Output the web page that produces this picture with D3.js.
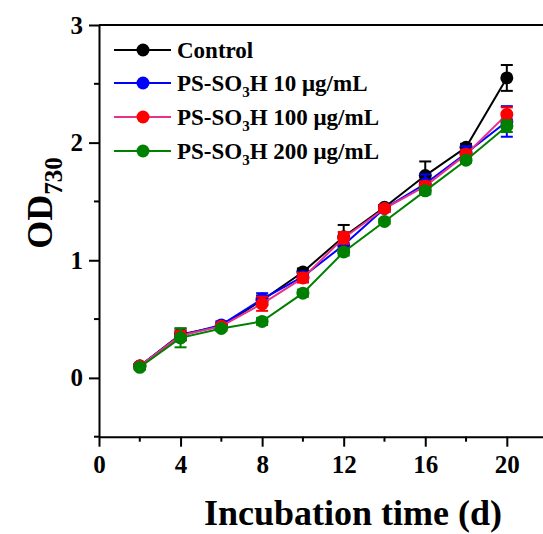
<!DOCTYPE html>
<html>
<head>
<meta charset="utf-8">
<script src="https://cdn.jsdelivr.net/npm/d3@7"></script>
<style>
  body { margin: 0; background: #fff; }
  text { font-family: "Liberation Serif", "Times New Roman", serif; font-weight: bold; }
</style>
</head>
<body>
<div id="chart"></div>
<script>
// data
var days = [2, 4, 6, 8, 10, 12, 14, 16, 18, 20];
var seriesNames = ["Control", "PS-SO3H 10 \u03bcg/mL", "PS-SO3H 100 \u03bcg/mL", "PS-SO3H 200 \u03bcg/mL"];
var control    = [0.10, 0.37, 0.44, 0.66, 0.90, 1.20, 1.45, 1.72, 1.96, 2.55];
var controlErr = [0.02, 0.05, 0.02, 0.04, 0.03, 0.10, 0.02, 0.12, 0.03, 0.11];
var ps10       = [0.10, 0.36, 0.45, 0.67, 0.86, 1.13, 1.44, 1.65, 1.91, 2.18];
var ps10Err    = [0.02, 0.04, 0.03, 0.05, 0.04, 0.07, 0.03, 0.08, 0.06, 0.13];
var ps100      = [0.10, 0.36, 0.44, 0.63, 0.85, 1.19, 1.44, 1.63, 1.90, 2.24];
var ps100Err   = [0.02, 0.04, 0.02, 0.06, 0.04, 0.05, 0.03, 0.04, 0.04, 0.06];
var ps200      = [0.09, 0.34, 0.42, 0.48, 0.72, 1.07, 1.33, 1.59, 1.85, 2.14];
var ps200Err   = [0.02, 0.08, 0.02, 0.03, 0.03, 0.03, 0.02, 0.03, 0.02, 0.05];
var xTicks = [0, 4, 8, 12, 16, 20];
var yTicks = [0, 1, 2, 3];

var lineColors = ["#000000", "#0000ff", "#e8318a", "#008000"];
var dotColors  = ["#000000", "#0000ff", "#ff0000", "#008000"];
var values = [control, ps10, ps100, ps200];
var errors = [controlErr, ps10Err, ps100Err, ps200Err];

var W = 543, H = 534;
var m = {left: 99, top: 25};
var w = 448.6, h = 411.7;

var svg = d3.select("#chart").append("svg")
  .attr("width", W).attr("height", H);

var g = svg.append("g").attr("transform", "translate(" + m.left + "," + m.top + ")");

var x = d3.scaleLinear().domain([0, 22]).range([0, w]);
var y = d3.scaleLinear().domain([-0.5, 3]).range([h, 0]);

// frame top + right
g.append("line").attr("x1", 0).attr("x2", w).attr("y1", 0).attr("y2", 0)
  .attr("stroke", "#000").attr("stroke-width", 2);
g.append("line").attr("x1", w).attr("x2", w).attr("y1", 0).attr("y2", h)
  .attr("stroke", "#000").attr("stroke-width", 2);

// minor ticks
var xMinor = d3.range(2, 22, 4);
var yMinor = [-0.5, 0.5, 1.5, 2.5];
g.selectAll(".xminor").data(xMinor).enter().append("line")
  .attr("x1", function(d) { return x(d); }).attr("x2", function(d) { return x(d); })
  .attr("y1", h).attr("y2", h + 5).attr("stroke", "#000").attr("stroke-width", 2);
g.selectAll(".yminor").data(yMinor).enter().append("line")
  .attr("x1", -5).attr("x2", 0)
  .attr("y1", function(d) { return y(d); }).attr("y2", function(d) { return y(d); })
  .attr("stroke", "#000").attr("stroke-width", 2);

// axes
var xAxis = g.append("g").attr("transform", "translate(0," + h + ")")
  .call(d3.axisBottom(x).tickValues(xTicks).tickFormat(d3.format("d")).tickSize(10).tickPadding(9).tickSizeOuter(0));
var yAxis = g.append("g")
  .call(d3.axisLeft(y).tickValues(yTicks).tickFormat(d3.format("d")).tickSize(10).tickPadding(6).tickSizeOuter(0));
[xAxis, yAxis].forEach(function(a) {
  a.select(".domain").attr("stroke-width", 2);
  a.selectAll(".tick line").attr("stroke-width", 2);
  a.selectAll(".tick text").style("font-size", "25px").attr("fill", "#000");
});

// series: lines, error bars, markers
var line = d3.line()
  .x(function(d, i) { return x(days[i]); })
  .y(function(d) { return y(d); });

values.forEach(function(vals, s) {
  var sg = g.append("g");
  sg.append("path").datum(vals)
    .attr("d", line).attr("fill", "none")
    .attr("stroke", lineColors[s]).attr("stroke-width", 2);
  var eb = sg.selectAll(".err").data(vals).enter().append("g");
  eb.append("line")
    .attr("x1", function(d, i) { return x(days[i]); })
    .attr("x2", function(d, i) { return x(days[i]); })
    .attr("y1", function(d, i) { return y(d - errors[s][i]); })
    .attr("y2", function(d, i) { return y(d + errors[s][i]); })
    .attr("stroke", dotColors[s]).attr("stroke-width", 2);
  [-1, 1].forEach(function(sign) {
    eb.append("line")
      .attr("x1", function(d, i) { return x(days[i]) - 6; })
      .attr("x2", function(d, i) { return x(days[i]) + 6; })
      .attr("y1", function(d, i) { return y(d + sign * errors[s][i]); })
      .attr("y2", function(d, i) { return y(d + sign * errors[s][i]); })
      .attr("stroke", dotColors[s]).attr("stroke-width", 2);
  });
  sg.selectAll("circle").data(vals).enter().append("circle")
    .attr("cx", function(d, i) { return x(days[i]); })
    .attr("cy", function(d) { return y(d); })
    .attr("r", 6.5)
    .attr("fill", dotColors[s]);
});

// legend
var legendY = [50, 83, 117, 151];
seriesNames.forEach(function(name, s) {
  var ly = legendY[s];
  svg.append("line").attr("x1", 114).attr("x2", 171).attr("y1", ly).attr("y2", ly)
    .attr("stroke", lineColors[s]).attr("stroke-width", 2);
  svg.append("circle").attr("cx", 143).attr("cy", ly).attr("r", 6.5).attr("fill", dotColors[s]);
  var t = svg.append("text").attr("x", 177).attr("y", ly + 8).style("font-size", "23px");
  if (s === 0) {
    t.text(name);
  } else {
    var rest = name.replace("PS-SO3H", "");
    t.append("tspan").text("PS-SO");
    t.append("tspan").attr("dy", 6).style("font-size", "15px").text("3");
    t.append("tspan").attr("dy", -6).text("H" + rest);
  }
});

// axis titles
svg.append("text")
  .attr("x", 353).attr("y", 525)
  .attr("text-anchor", "middle")
  .style("font-size", "36px")
  .text("Incubation time (d)");

var yt = svg.append("text")
  .attr("transform", "translate(52,203) rotate(-90)")
  .attr("text-anchor", "middle")
  .style("font-size", "36px");
yt.append("tspan").text("OD");
yt.append("tspan").attr("dy", 10).style("font-size", "25px").text("730");
</script>
</body>
</html>
